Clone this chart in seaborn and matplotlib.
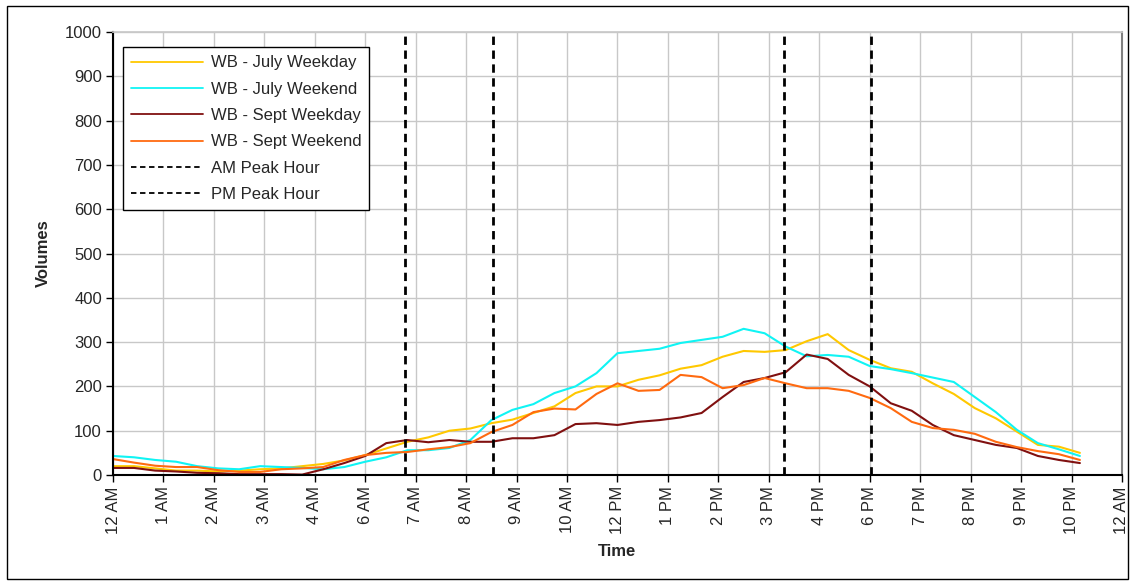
import numpy as np
import pandas as pd
import seaborn as sns
import matplotlib.pyplot as plt
from matplotlib.patches import Rectangle

# half-hour readings, 12 AM to 11 PM
hours = [h / 2 for h in range(47)]

july_weekday = [20, 20, 15, 10, 10, 8, 10, 13, 15, 20, 25, 33, 45, 60, 75, 85,
                100, 105, 117, 125, 140, 155, 185, 200, 200, 215, 225, 240, 248, 267, 280, 278,
                282, 302, 318, 282, 260, 241, 233, 207, 183, 151, 128, 98, 68, 64, 50]
july_weekend = [43, 40, 34, 30, 20, 15, 13, 20, 18, 16, 13, 18, 30, 40, 56, 56,
                61, 79, 124, 147, 160, 185, 200, 230, 275, 280, 285, 298, 305, 312, 330, 320,
                290, 268, 271, 267, 246, 239, 230, 220, 210, 176, 142, 102, 72, 58, 43]
sept_weekday = [16, 16, 10, 8, 5, 4, 2, 2, 2, 1, 13, 27, 43, 72, 79, 74,
                79, 75, 75, 83, 83, 90, 115, 117, 113, 120, 124, 130, 140, 176, 210, 219,
                232, 272, 262, 226, 200, 162, 145, 113, 90, 79, 68, 61, 43, 34, 27]
sept_weekend = [36, 28, 21, 18, 18, 11, 7, 7, 13, 15, 18, 34, 45, 50, 52, 58,
                63, 72, 97, 113, 142, 150, 148, 183, 207, 190, 192, 226, 221, 196, 203, 219,
                207, 196, 196, 190, 174, 151, 120, 106, 102, 93, 75, 63, 54, 47, 34]

series_names = ['WB - July Weekday', 'WB - July Weekend', 'WB - Sept Weekday', 'WB - Sept Weekend']
series_colors = ['#FFC800', '#10F4F4', '#801010', '#FF6A10']

am_peak = [6.95, 9.03]
pm_peak = [15.95, 18.03]

tick_hours = [i * 1.2 for i in range(21)]
tick_labels = ['12 AM', '1 AM', '2 AM', '3 AM', '4 AM', '6 AM', '7 AM', '8 AM', '9 AM', '10 AM',
               '12 PM', '1 PM', '2 PM', '3 PM', '4 PM', '6 PM', '7 PM', '8 PM', '9 PM', '10 PM', '12 AM']

df = pd.DataFrame({'hour': hours * 4,
                   'volume': july_weekday + july_weekend + sept_weekday + sept_weekend,
                   'series': [n for n in series_names for _ in hours]})

sns.set_theme(style='white')
plt.rcParams['font.family'] = ['Liberation Sans', 'DejaVu Sans']

fig = plt.figure(figsize=(11.35, 5.85), dpi=100)
ax = fig.add_axes([0.0996, 0.188, 0.8889, 0.7573])

for name, color in zip(series_names, series_colors):
    sns.lineplot(data=df[df.series == name], x='hour', y='volume', color=color,
                 linewidth=1.5, label=name, ax=ax)

for i, x in enumerate(am_peak):
    ax.axvline(x, color='black', linewidth=2, linestyle=(0, (3, 2)),
               label='AM Peak Hour' if i == 0 else None)
for i, x in enumerate(pm_peak):
    ax.axvline(x, color='black', linewidth=2, linestyle=(0, (3, 2)),
               label='PM Peak Hour' if i == 0 else None)

ax.set_xlim(0, 24)
ax.set_ylim(0, 1000)
ax.set_yticks(range(0, 1001, 100))
ax.set_xticks(tick_hours)
ax.set_xticklabels(tick_labels, rotation=90)
ax.tick_params(axis='both', labelsize=12, direction='out', length=5, width=1, color='black',
               left=True, bottom=True, pad=3)
ax.grid(True, color='#C8C8C8', linewidth=1)
ax.set_axisbelow(True)

for side in ['left', 'bottom']:
    ax.spines[side].set_color('black')
    ax.spines[side].set_linewidth(1.5)
ax.spines['top'].set_color('#C8C8C8')
ax.spines['right'].set_color('#808080')
ax.spines['right'].set_linewidth(1.5)

ax.set_xlabel('Time', fontsize=12, fontweight='bold', labelpad=7)
ax.set_ylabel('Volumes', fontsize=12, fontweight='bold', labelpad=10)

handles, labels = ax.get_legend_handles_labels()
leg = ax.legend(handles, labels, loc='upper left', bbox_to_anchor=(0.0099, 0.966),
                borderaxespad=0, fancybox=False, framealpha=1, edgecolor='black',
                fontsize=12, labelspacing=0.68, handlelength=4.3, handletextpad=0.45,
                borderpad=0.5)
leg.get_frame().set_linewidth(1)
for line in leg.get_lines():
    line.set_linewidth(1.3)

fig.patches.append(Rectangle((0.006, 0.01), 0.988, 0.98, transform=fig.transFigure,
                             fill=False, edgecolor='black', linewidth=1))

fig.savefig('out.png', dpi=100)
